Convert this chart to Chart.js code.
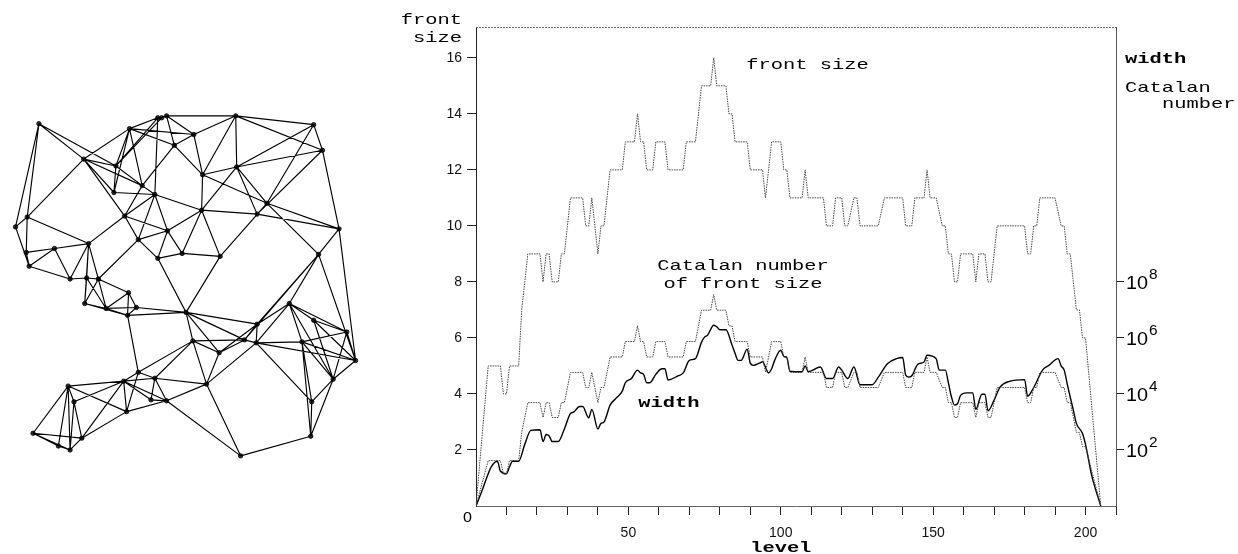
<!DOCTYPE html>
<html>
<head>
<meta charset="utf-8">
<script src="https://cdn.jsdelivr.net/npm/chart.js@4/dist/chart.umd.min.js"></script>
<style>
  body { margin: 0; background: #fff; }
  #graphBox { position: absolute; left: 0; top: 0; width: 375px; height: 554px; }
  #plotBox { position: absolute; left: 380px; top: 0; width: 858px; height: 554px; }
</style>
</head>
<body>
<div id="graphBox"><canvas id="graphChart"></canvas></div>
<div id="plotBox"><canvas id="levelChart"></canvas></div>
<script>
// ---- level profile ----
const frontLevels = [0,4,8,9,10,11,14,15,16,17,
  21,22,23,24,25,27,28,29,30,31,
  35,36,37,38,39,40,41,42,43,44,
  48,49,52,53,54,55,56,58,59,62,
  63,68,69,72,73,74,77,78,79,82,
  83,84,85,89,90,94,95,96,97,100,
  101,102,103,107,108,109,114,115,117,118,
  120,121,122,124,125,126,132,134,140,141,
  143,144,147,148,149,151,153,154,155,156,
  157,158,159,163,164,165,167,168,169,171,
  180,181,182,183,184,185,190,192,193,194,
  195,196,197,198,199,200,205];
const frontSize = [0,5,5,4,4,5,5,7,8,9,
  9,8,9,9,8,8,9,9,10,11,
  11,10,10,11,10,9,10,10,11,12,
  12,13,13,14,13,13,12,12,13,13,
  12,12,13,13,14,15,15,16,15,15,
  14,14,13,13,12,12,11,12,13,13,
  12,12,11,11,12,11,11,10,10,11,
  11,10,10,11,11,10,10,11,11,10,
  10,11,11,12,11,11,10,10,9,9,
  8,8,9,9,8,9,9,8,8,10,
  10,9,9,10,10,11,11,10,10,9,
  9,8,7,7,6,6,0];
// log10 of the Catalan number of the front size
const catalanExp = [0,1.62,1.62,1.15,1.15,1.62,1.62,2.63,3.16,3.69,
  3.69,3.16,3.69,3.69,3.16,3.16,3.69,3.69,4.23,4.77,
  4.77,4.23,4.23,4.77,4.23,3.69,4.23,4.23,4.77,5.32,
  5.32,5.87,5.87,6.43,5.87,5.87,5.32,5.32,5.87,5.87,
  5.32,5.32,5.87,5.87,6.43,6.99,6.99,7.55,6.99,6.99,
  6.43,6.43,5.87,5.87,5.32,5.32,4.77,5.32,5.87,5.87,
  5.32,5.32,4.77,4.77,5.32,4.77,4.77,4.23,4.23,4.77,
  4.77,4.23,4.23,4.77,4.77,4.23,4.23,4.77,4.77,4.23,
  4.23,4.77,4.77,5.32,4.77,4.77,4.23,4.23,3.69,3.69,
  3.16,3.16,3.69,3.69,3.16,3.69,3.69,3.16,3.16,4.23,
  4.23,3.69,3.69,4.23,4.23,4.77,4.77,4.23,4.23,3.69,
  3.69,3.16,2.63,2.63,2.12,2.12,0];
const widthLevels = [0,2,4,5,7,8,10,11,12,14,
  16,18,21,22,23,24,25,27,29,31,
  32,34,35,37,38,40,41,42,44,46,
  48,49,51,53,54,55,56,57,59,61,
  62,63,66,68,70,72,74,75,76,78,
  79,80,82,84,85,86,87,89,90,91,
  93,94,96,97,98,100,101,102,103,107,
  108,109,113,115,117,119,120,122,124,126,
  130,132,135,138,140,141,142,143,145,147,
  148,151,152,154,155,156,157,158,159,161,
  163,164,166,167,168,170,172,175,180,181,
  183,186,188,191,192,193,194,196,197,199,
  200,202,205];
// log10 of the width
const widthExp = [0,0.55,1.15,1.4,1.6,1.25,1.15,1.4,1.6,1.6,
  2.2,2.7,2.72,2.3,2.55,2.5,2.3,2.3,2.75,3.3,
  3.35,3.55,3.55,3.15,3.45,2.75,2.95,3.0,3.6,3.85,
  4.1,4.4,4.55,4.85,4.75,4.7,4.4,4.4,4.7,4.9,
  4.9,4.5,4.63,4.75,5.2,5.26,5.85,6.03,6.1,6.45,
  6.4,6.29,6.29,5.75,5.45,5.2,5.2,5.6,5.1,5.02,
  5.1,5.15,4.75,4.9,5.2,5.56,5.34,5.3,4.81,4.79,
  5.0,4.79,4.96,4.55,4.55,4.96,4.85,4.55,4.96,4.33,
  4.33,4.6,5.08,5.26,5.3,4.67,4.6,4.65,5.06,5.14,
  5.38,5.26,4.85,4.85,4.4,3.9,3.6,3.65,3.95,4.04,
  4.04,3.45,3.99,3.99,3.4,3.78,4.25,4.45,4.51,3.92,
  4.23,4.87,5.02,5.26,5.0,4.85,4.35,3.42,2.95,2.59,
  2.2,1.1,0];
const levelTicks = [10,20,30,40,50,60,70,80,90,100,110,120,130,140,150,160,170,180,190,200,210];
const frontTicks = [2,4,6,8,10,12,14,16];
const catalanTickExp = [2,4,6,8];

// ---- mesh graph on the left ----
const nodeX = [35,157,166,128,81,114,174,141,112,154,123,23,11,167,137,237,317,194,326,238,
  203,269,259,202,343,22,25,51,86,182,157,67,84,96,127,82,104,135,126,186,
  221,322,292,317,351,259,193,246,258,305,220,360,337,207,315,314,242,137,122,154,
  65,71,150,166,125,29,55,67,79,161];
const nodeY = [121,115,113,126,157,164,143,184,191,193,215,216,226,230,239,113,122,132,148,165,
  173,202,213,209,228,252,266,248,243,253,258,279,278,279,293,304,309,308,316,313,
  256,254,304,321,333,325,342,341,344,343,354,362,381,386,404,439,459,374,383,380,
  388,404,402,403,414,436,449,453,441,115];
const edges = [[0,4],[0,5],[0,12],[0,11],[4,3],[4,11],[4,5],[4,7],[4,10],[4,8],
  [3,5],[3,8],[3,7],[3,1],[3,6],[3,17],[5,1],[5,69],[5,7],[5,8],
  [1,69],[69,2],[2,6],[1,9],[2,17],[2,15],[6,17],[6,20],[6,7],
  [7,9],[8,9],[7,10],[9,10],[9,13],[9,14],[9,23],
  [10,14],[10,13],[10,28],[11,28],[11,12],[11,25],[12,26],
  [15,16],[15,17],[15,19],[15,20],[15,18],[16,18],[16,19],[16,21],[18,19],[18,22],[18,24],
  [19,20],[19,21],[19,22],[19,23],[17,20],[20,21],[20,23],[21,22],[21,24],[22,24],[23,22],
  [23,13],[23,29],[23,40],[21,40],[21,41],[24,41],[24,51],
  [25,27],[26,27],[25,26],[26,31],[27,31],[27,28],[28,31],[28,32],[28,33],[28,35],
  [31,32],[32,33],[32,35],[33,35],[33,34],[33,36],[32,36],[34,36],[34,37],[35,36],[36,37],[36,38],[37,38],[35,38],[34,38],
  [38,39],[37,39],[33,14],[14,30],[14,13],[13,30],[13,29],[30,29],[30,39],[38,57],
  [29,40],[40,39],
  [41,45],[41,47],[41,51],[41,42],[39,45],[39,46],[39,47],[39,50],
  [46,47],[46,50],[46,53],[46,57],[46,59],[47,50],[47,48],[45,48],[45,47],[45,50],[45,42],
  [48,49],[48,42],[48,54],[48,51],[48,53],
  [42,43],[42,44],[42,49],[42,52],[43,44],[43,51],[43,52],[44,49],[44,51],[44,52],
  [49,51],[49,54],[49,52],[49,55],[52,54],[52,55],[51,52],
  [54,55],[55,56],[53,56],[50,53],[53,63],[53,59],[56,63],
  [57,58],[57,59],[58,59],[58,60],[58,61],[58,62],[58,63],[58,64],[58,68],[57,64],
  [59,62],[59,63],[62,63],[64,63],[68,64],
  [60,61],[60,64],[60,65],[60,66],[60,67],[61,67],[61,68],
  [65,66],[65,67],[65,68],[66,67],[67,68]];

let edgePoints = [];
for (let i = 0; i < edges.length; i++) {
  const a = edges[i][0], b = edges[i][1];
  edgePoints.push({ x: nodeX[a], y: nodeY[a] });
  edgePoints.push({ x: nodeX[b], y: nodeY[b] });
  edgePoints.push({ x: nodeX[b], y: null });
}
const nodePoints = nodeX.map((x, i) => ({ x: x, y: nodeY[i] }));

new Chart(document.getElementById("graphChart"), {
  type: "scatter",
  data: {
    datasets: [
      { data: edgePoints, showLine: true, spanGaps: false, borderColor: "#000", borderWidth: 1.15, pointRadius: 0 },
      { data: nodePoints, pointRadius: 2.2, backgroundColor: "#333", borderColor: "#000", borderWidth: 0.8 },
    ],
  },
  options: {
    responsive: true,
    maintainAspectRatio: false,
    animation: false,
    devicePixelRatio: 1,
    layout: { padding: 0 },
    plugins: { legend: { display: false }, tooltip: { enabled: false } },
    scales: {
      x: { type: "linear", min: 0, max: 375, display: false },
      y: { type: "linear", min: 0, max: 554, reverse: true, display: false },
    },
  },
});

// ---- text helper, monospace labels look stretched sideways in the original ----
function drawText(ctx, s, x, y, font, align, sx) {
  ctx.save();
  ctx.font = font;
  ctx.fillStyle = "#000";
  ctx.textAlign = align || "left";
  ctx.textBaseline = "alphabetic";
  ctx.translate(x, y);
  ctx.scale(sx || 1, 1);
  ctx.fillText(s, 0, 0);
  ctx.restore();
}

const MONO = '15px "Liberation Mono"';
const MONO_B = 'bold 15px "Liberation Mono"';

const labelPlugin = {
  id: "labels",
  afterDraw(chart) {
    const ctx = chart.ctx;
    const a = chart.chartArea;
    const x = chart.scales.x, y = chart.scales.y, y2 = chart.scales.y2;
    // top frame line
    ctx.save();
    ctx.strokeStyle = "#666";
    ctx.lineWidth = 1;
    ctx.setLineDash([2, 1]);
    ctx.beginPath();
    ctx.moveTo(a.left, a.top + 0.5);
    ctx.lineTo(a.right, a.top + 0.5);
    ctx.stroke();
    ctx.restore();

    // axis titles
    drawText(ctx, "front", 82, 23.5, MONO, "right", 1.36);
    drawText(ctx, "size", 82, 41.5, MONO, "right", 1.36);
    drawText(ctx, "level", x.getPixelForValue(100), 552, MONO_B, "center", 1.36);
    drawText(ctx, "width", 745, 63, MONO_B, "left", 1.36);
    drawText(ctx, "Catalan", 745, 92, MONO, "left", 1.36);
    drawText(ctx, "number", 782, 108, MONO, "left", 1.36);

    // curve labels
    drawText(ctx, "front size", x.getPixelForValue(108.8), y.getPixelForValue(15.61), MONO, "center", 1.36);
    drawText(ctx, "Catalan number", x.getPixelForValue(87.6), y.getPixelForValue(8.41), MONO, "center", 1.36);
    drawText(ctx, "of front size", x.getPixelForValue(87.6), y.getPixelForValue(7.77), MONO, "center", 1.36);
    drawText(ctx, "width", x.getPixelForValue(63.3), y.getPixelForValue(3.53), MONO_B, "center", 1.36);

    // zero label at the corner
    drawText(ctx, "0", 87.5, 522, '14px "Liberation Sans"', "center", 1.15);

    // right axis labels 10^n
    catalanTickExp.forEach((e) => {
      const py = y2.getPixelForValue(Math.pow(10, e));
      drawText(ctx, "10", 746, py + 7, '18px "Liberation Sans"', "left", 1.1);
      drawText(ctx, String(e), 769, py - 3, '14px "Liberation Sans"', "left", 1.1);
    });
  },
};

new Chart(document.getElementById("levelChart"), {
  type: "line",
  data: {
    datasets: [
      {
        label: "front size",
        data: frontLevels.map((l, i) => ({ x: l, y: frontSize[i] })),
        yAxisID: "y",
        borderColor: "#444",
        borderWidth: 1,
        borderDash: [1.5, 1],
        pointRadius: 0,
        tension: 0,
      },
      {
        label: "Catalan number of front size",
        data: frontLevels.map((l, i) => ({ x: l, y: Math.pow(10, catalanExp[i]) })),
        yAxisID: "y2",
        borderColor: "#444",
        borderWidth: 1,
        borderDash: [1.5, 1],
        pointRadius: 0,
        tension: 0,
      },
      {
        label: "width",
        data: widthLevels.map((l, i) => ({ x: l, y: Math.pow(10, widthExp[i]) })),
        yAxisID: "y2",
        borderColor: "#000",
        borderWidth: 1.4,
        pointRadius: 0,
        cubicInterpolationMode: "monotone",
      },
    ],
  },
  options: {
    responsive: true,
    maintainAspectRatio: false,
    animation: false,
    devicePixelRatio: 1,
    layout: { padding: { top: 27, left: 0, right: 0, bottom: 0 } },
    plugins: { legend: { display: false }, tooltip: { enabled: false } },
    scales: {
      x: {
        type: "linear",
        min: 0,
        max: 210,
        afterBuildTicks: (s) => { s.ticks = levelTicks.map((v) => ({ value: v })); },
        afterFit: (s) => { s.height = 48; },
        ticks: {
          autoSkip: false,
          maxRotation: 0,
          padding: 10,
          color: "#111",
          font: { family: "Liberation Sans", size: 14 },
          callback: (v) => (v % 50 === 0 ? String(v) : ""),
        },
        grid: { drawOnChartArea: false, drawTicks: true, tickLength: 9, color: "#222" },
        border: { display: true, color: "#666", dash: [2, 1] },
      },
      y: {
        type: "linear",
        position: "left",
        min: 0,
        max: 17.1,
        afterBuildTicks: (s) => { s.ticks = frontTicks.map((v) => ({ value: v })); },
        afterFit: (s) => { s.width = 96; },
        ticks: { padding: 5, color: "#111", font: { family: "Liberation Sans", size: 14 } },
        grid: { drawOnChartArea: false, drawTicks: true, tickLength: 9, color: "#222" },
        border: { display: true, color: "#222" },
      },
      y2: {
        type: "logarithmic",
        position: "right",
        min: 1,
        max: Math.pow(10, 17.1),
        afterBuildTicks: (s) => { s.ticks = catalanTickExp.map((e) => ({ value: Math.pow(10, e) })); },
        afterFit: (s) => { s.width = 122; },
        ticks: { display: false },
        grid: { drawOnChartArea: false, drawTicks: true, tickLength: 8, color: "#222" },
        border: { display: true, color: "#555" },
      },
    },
  },
  plugins: [labelPlugin],
});
</script>
</body>
</html>
